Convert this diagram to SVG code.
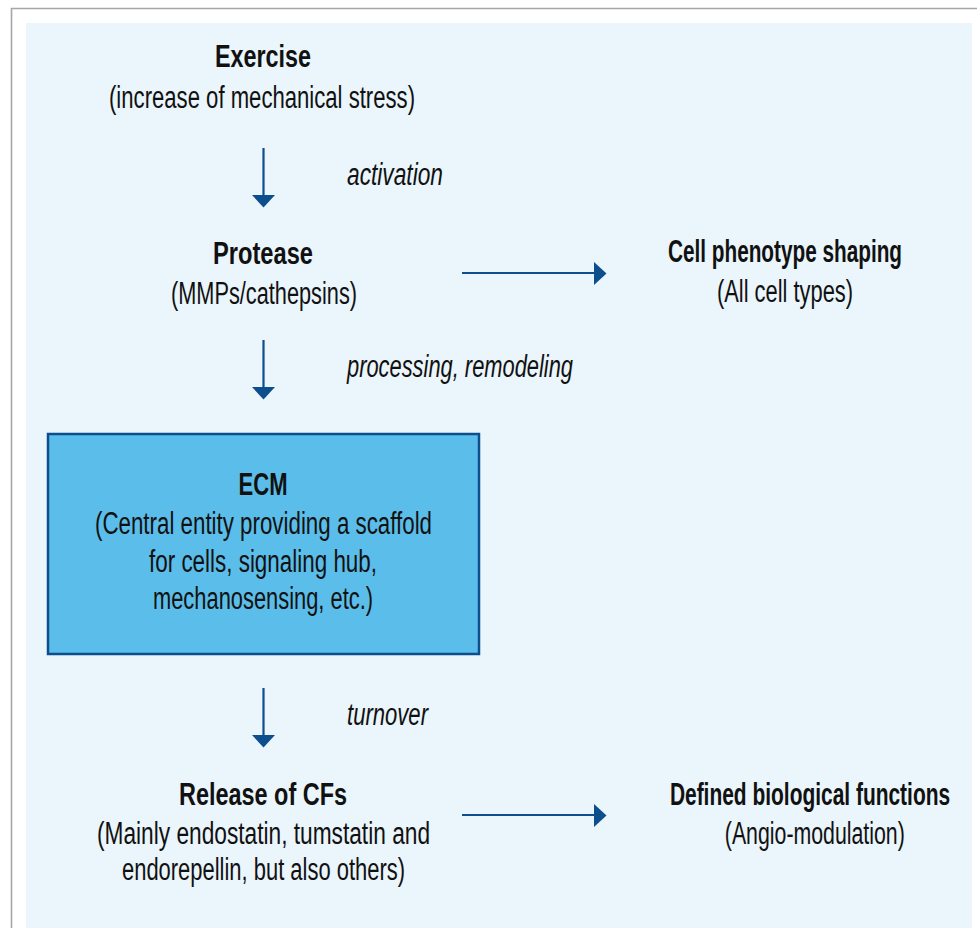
<svg xmlns="http://www.w3.org/2000/svg" width="977" height="928" viewBox="0 0 977 928">
<defs>
<style>
.t{font-family:"Liberation Sans Narrow","Liberation Sans",Arial,sans-serif;font-size:31px;fill:#111;text-anchor:middle}
.b{font-weight:bold}
.i{font-style:italic;text-anchor:start}
.ln{stroke:#0d4f8c;stroke-width:2.2;fill:none}
.ah{fill:#0d4f8c}
</style>
</defs>
<rect x="0" y="0" width="977" height="928" fill="#ffffff"/>
<path d="M11.5 928 V8.5 H977" fill="none" stroke="#a6a6a6" stroke-width="1.6"/>
<rect x="26" y="23" width="946" height="905" fill="#eaf5fc"/>

<g id="exercise">
<text class="t b" x="263" y="67" textLength="96" lengthAdjust="spacingAndGlyphs">Exercise</text>
<text class="t" x="262" y="108" textLength="306" lengthAdjust="spacingAndGlyphs">(increase of mechanical stress)</text>
</g>
<g id="protease">
<text class="t b" x="263" y="264" textLength="100" lengthAdjust="spacingAndGlyphs">Protease</text>
<text class="t" x="264" y="304" textLength="186" lengthAdjust="spacingAndGlyphs">(MMPs/cathepsins)</text>
</g>
<g id="cellphenotype">
<g transform="translate(785,0) scale(0.6,1)">
<text class="t b" x="0" y="262" textLength="390" lengthAdjust="spacingAndGlyphs">Cell phenotype shaping</text>
<text class="t" x="0" y="302" textLength="227" lengthAdjust="spacingAndGlyphs">(All cell types)</text>
</g>
</g>
<g id="ecm">
<rect x="48" y="434" width="431" height="220" fill="#5bbde9" stroke="#0d4f8c" stroke-width="2.5"/>
<text class="t b" x="263" y="495" textLength="49" lengthAdjust="spacingAndGlyphs">ECM</text>
<text class="t" x="263.5" y="534" textLength="337" lengthAdjust="spacingAndGlyphs">(Central entity providing a scaffold</text>
<text class="t" x="263" y="572" textLength="228" lengthAdjust="spacingAndGlyphs">for cells, signaling hub,</text>
<text class="t" x="263" y="609" textLength="220" lengthAdjust="spacingAndGlyphs">mechanosensing, etc.)</text>
</g>
<g id="release">
<text class="t b" x="263" y="805" textLength="168" lengthAdjust="spacingAndGlyphs">Release of CFs</text>
<text class="t" x="263.5" y="844" textLength="333" lengthAdjust="spacingAndGlyphs">(Mainly endostatin, tumstatin and</text>
<text class="t" x="263.5" y="880" textLength="283" lengthAdjust="spacingAndGlyphs">endorepellin, but also others)</text>
</g>
<g id="functions">
<g transform="translate(810,0) scale(0.6,1)">
<text class="t b" x="0" y="805" textLength="467" lengthAdjust="spacingAndGlyphs">Defined biological functions</text>
<text class="t" x="8" y="844" textLength="300" lengthAdjust="spacingAndGlyphs">(Angio-modulation)</text>
</g>
</g>

<g id="connectors">
<line class="ln" x1="263.5" y1="148" x2="263.5" y2="196"/>
<polygon class="ah" points="252,195 275,195 263.5,207.5"/>
<text class="t i" x="347" y="185" textLength="96" lengthAdjust="spacingAndGlyphs">activation</text>

<line class="ln" x1="462" y1="273" x2="596" y2="273"/>
<polygon class="ah" points="594,262 594,285 606.5,273.5"/>

<line class="ln" x1="263.5" y1="340" x2="263.5" y2="388"/>
<polygon class="ah" points="252,387 275,387 263.5,399.5"/>
<text class="t i" x="347" y="377" textLength="226" lengthAdjust="spacingAndGlyphs">processing, remodeling</text>

<line class="ln" x1="263.5" y1="688" x2="263.5" y2="736"/>
<polygon class="ah" points="252,735 275,735 263.5,747.5"/>
<text class="t i" x="347" y="725" textLength="81" lengthAdjust="spacingAndGlyphs">turnover</text>

<line class="ln" x1="462" y1="815" x2="596" y2="815"/>
<polygon class="ah" points="594,804 594,827 606.5,815.5"/>
</g>
</svg>
